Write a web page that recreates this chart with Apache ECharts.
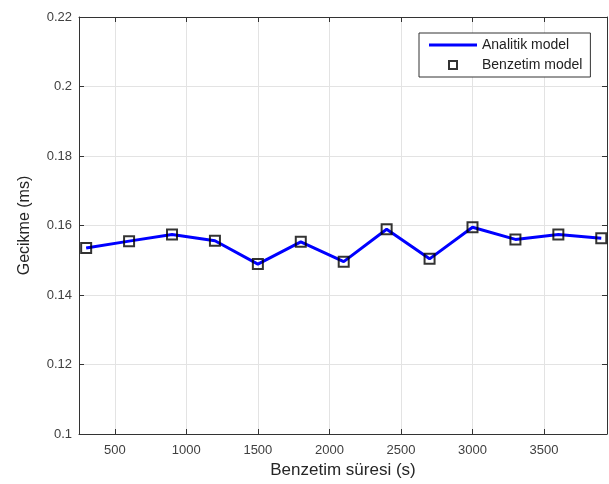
<!DOCTYPE html>
<html><head><meta charset="utf-8">
<script src="https://cdn.jsdelivr.net/npm/echarts@6/dist/echarts.min.js"></script>
<style>html,body{margin:0;padding:0;background:#fff}#c{width:609px;height:484px}</style>
</head><body><div id="c"></div>
<script>
const simTime = [300, 600, 900, 1200, 1500, 1800, 2100, 2400, 2700, 3000, 3300, 3600, 3900];
const analyticDelay = [0.1535, 0.1555, 0.1574, 0.1556, 0.1489, 0.1553, 0.1496, 0.1589, 0.1504, 0.1595, 0.1560, 0.1574, 0.1563];
const simDelay = [0.1535, 0.1555, 0.1574, 0.1556, 0.1489, 0.1553, 0.1496, 0.1589, 0.1504, 0.1595, 0.1560, 0.1574, 0.1563];
const xTicks = [500, 1000, 1500, 2000, 2500, 3000, 3500];
const seriesNames = ['Analitik model', 'Benzetim model'];

const font = 'Liberation Sans, Arial, Helvetica, sans-serif';
const axisCol = '#333333';
const gridCol = '#e3e3e3';
const chart = echarts.init(document.getElementById('c'));
const pair = a => simTime.map((x, i) => [x, a[i]]);
chart.setOption({
  animation: false,
  textStyle: {fontFamily: font},
  grid: {left: 79, right: 2, top: 17, bottom: 50, containLabel: false},
  legend: {
    orient: 'vertical', left: 419, top: 33,
    padding: [5, 8, 5, 10], itemGap: 6, itemWidth: 48, itemHeight: 10,
    backgroundColor: '#fff', borderColor: '#333', borderWidth: 1,
    textStyle: {fontFamily: font, fontSize: 14, color: '#222'},
    data: [
      {name: seriesNames[0], icon: 'path://M0,0 H48 V3 H0 Z'},
      {name: seriesNames[1], icon: 'path://M0,0 H10 V10 H0 Z M2,2 V8 H8 V2 Z',
       itemStyle: {color: '#000', borderWidth: 0}}
    ]
  },
  xAxis: [{
    type: 'value', min: 250, max: 3940,
    name: 'Benzetim süresi (s)', nameLocation: 'middle', nameGap: 27,
    nameTextStyle: {fontFamily: font, fontSize: 17, color: '#262626'},
    axisLine: {show: true, lineStyle: {color: axisCol, width: 1}},
    axisTick: {show: true, inside: true, length: 5, customValues: xTicks, lineStyle: {color: axisCol}},
    axisLabel: {customValues: xTicks, margin: 10, fontFamily: font, fontSize: 13, color: '#404040',
      formatter: v => String(v)},
    splitLine: {show: true, customValues: xTicks, lineStyle: {color: gridCol, width: 1}}
  }, {
    type: 'value', min: 250, max: 3940, position: 'top',
    axisLine: {show: true, lineStyle: {color: axisCol, width: 1}},
    axisTick: {show: true, inside: true, length: 5, customValues: xTicks, lineStyle: {color: axisCol}},
    axisLabel: {show: false},
    splitLine: {show: false}
  }],
  yAxis: [{
    type: 'value', min: 0.1, max: 0.22, interval: 0.02,
    name: 'Gecikme (ms)', nameLocation: 'middle', nameGap: 46,
    nameTextStyle: {fontFamily: font, fontSize: 16, color: '#262626'},
    axisLine: {show: true, lineStyle: {color: axisCol, width: 1}},
    axisTick: {show: true, inside: true, length: 5, lineStyle: {color: axisCol}},
    axisLabel: {margin: 7, fontFamily: font, fontSize: 13, color: '#404040'},
    splitLine: {show: true, lineStyle: {color: gridCol, width: 1}}
  }, {
    type: 'value', min: 0.1, max: 0.22, interval: 0.02, position: 'right',
    axisLine: {show: true, lineStyle: {color: axisCol, width: 1}},
    axisTick: {show: true, inside: true, length: 5, lineStyle: {color: axisCol}},
    axisLabel: {show: false},
    splitLine: {show: false}
  }],
  series: [{
    name: seriesNames[0], type: 'line', data: pair(analyticDelay),
    symbol: 'none', lineStyle: {color: '#0000ff', width: 3}, itemStyle: {color: '#0000ff'}, z: 2
  }, {
    name: seriesNames[1], type: 'scatter', data: pair(simDelay),
    symbol: 'rect', symbolSize: 10,
    itemStyle: {color: 'rgba(0,0,0,0)', borderColor: '#000', borderWidth: 2}, z: 3
  }]
});
</script></body></html>
